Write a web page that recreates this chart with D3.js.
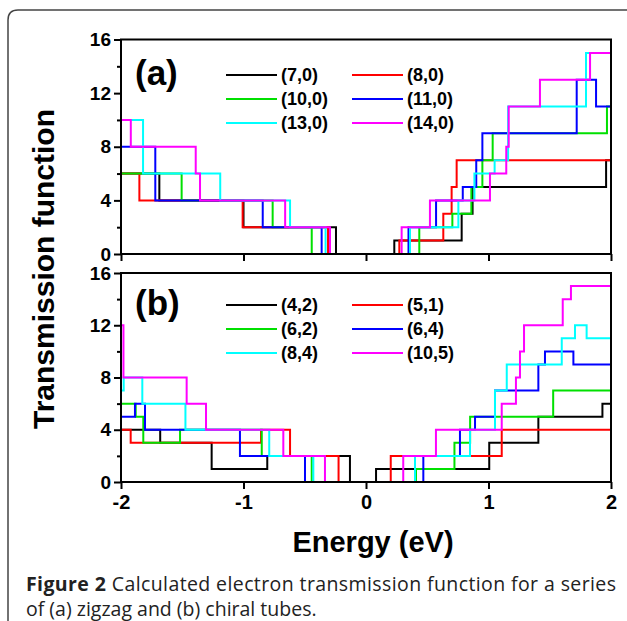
<!DOCTYPE html>
<html>
<head>
<meta charset="utf-8">
<script src="https://cdn.jsdelivr.net/npm/d3@7"></script>
<style>
  body { margin: 0; background: #fff; }
  svg text { font-family: "Liberation Sans", Arial, sans-serif; font-weight: bold; fill: #000; }
  .caption text { font-family: "Open Sans", "Noto Sans", sans-serif; }
</style>
</head>
<body>
<svg id="chart" width="627" height="621"></svg>
<script>
// axis ticks
var energyTicks = [-2, -1, 0, 1, 2];
var majorTicks = [0, 4, 8, 12, 16];
var minorTicks = [2, 6, 10, 14];
var colors = ["#000000", "#ff0000", "#00e000", "#0000ff", "#00ffff", "#ff00ff"];

// (a) zigzag tubes: [energy, transmission] step points
var zigzagLabels = ["(7,0)", "(8,0)", "(10,0)", "(11,0)", "(13,0)", "(14,0)"];
var t7_0 = [[-2, 6], [-1.687, 4], [-1.0, 2], [-0.245, 0], [0.231, 1], [0.781, 3], [0.87, 5], [1.96, 7], [2, 7]];
var t8_0 = [[-2, 6], [-1.85, 4], [-1.007, 2], [-0.31, 0], [0.272, 1], [0.631, 3], [0.699, 5], [0.74, 7], [2, 7]];
var t10_0 = [[-2, 6], [-1.505, 4], [-0.762, 2], [-0.443, 0], [0.435, 2], [0.705, 3], [0.86, 5], [0.95, 7], [1.034, 9], [1.967, 11], [2, 11]];
var t11_0 = [[-2, 8], [-1.72, 4], [-0.843, 2], [-0.362, 0], [0.347, 2], [0.572, 4], [0.79, 5], [0.9, 7], [0.95, 9], [1.72, 13], [1.878, 11], [2, 11]];
var t13_0 = [[-2, 10], [-1.82, 6], [-1.19, 4], [-0.62, 2], [-0.33, 0], [0.359, 2], [0.754, 4], [0.885, 6], [1.05, 7], [1.16, 11], [1.796, 15], [2, 15]];
var t14_0 = [[-2, 10], [-1.92, 8], [-1.39, 6], [-1.355, 4], [-0.66, 2], [-0.294, 0], [0.291, 2], [0.522, 4], [1.012, 6], [1.145, 8], [1.165, 11], [1.42, 13], [1.829, 15], [2, 15]];

// (b) chiral tubes
var chiralLabels = ["(4,2)", "(5,1)", "(6,2)", "(6,4)", "(8,4)", "(10,5)"];
var t4_2 = [[-2, 4], [-1.68, 3], [-1.26, 1], [-0.806, 2], [-0.131, 0], [0.082, 1], [1.006, 3], [1.407, 5], [1.93, 6], [2, 6]];
var t5_1 = [[-2, 4], [-1.921, 3], [-0.857, 4], [-0.62, 2], [-0.224, 0], [0.202, 2], [1.108, 4], [2, 4]];
var t6_2 = [[-2, 6], [-1.88, 5], [-1.818, 3], [-1.518, 4], [-0.851, 2], [-0.443, 0], [0.408, 1], [0.722, 3], [0.85, 5], [1.528, 7], [2, 7]];
var t6_4 = [[-2, 5], [-1.886, 6], [-1.804, 4], [-1.029, 2], [-0.498, 0], [0.468, 2], [0.767, 4], [0.89, 5], [1.053, 7], [1.407, 9], [1.461, 10], [1.693, 9], [2, 9]];
var t8_4 = [[-2, 7], [-1.978, 8], [-1.826, 6], [-1.474, 4], [-0.79, 2], [-0.43, 0], [0.4, 2], [0.849, 4], [1.053, 7], [1.149, 9], [1.598, 11], [1.706, 12], [1.801, 11], [2, 11]];
var t10_5 = [[-2, 12], [-1.98, 8], [-1.464, 6], [-1.306, 4], [-0.675, 2], [-0.335, 0], [0.304, 2], [0.571, 4], [1.108, 6], [1.224, 8], [1.257, 10], [1.29, 12], [1.606, 14], [1.673, 15], [2, 15]];

var svg = d3.select("#chart");

// outer figure box
svg.append("path")
    .attr("d", "M8,621 L8,20 Q8,10 18,10 L627,10")
    .attr("fill", "none")
    .attr("stroke", "#444")
    .attr("stroke-width", 1.5);

var x = d3.scaleLinear().domain([-2, 2]).range([121, 611]);

function drawPanel(top, bottom, series, labels, tag, legendTop, showXLabels) {
    var y = d3.scaleLinear().domain([0, 16]).range([bottom, top]);
    var g = svg.append("g");

    var line = d3.line()
        .x(function (d) { return x(d[0]); })
        .y(function (d) { return y(d[1]); })
        .curve(d3.curveStepAfter);

    g.selectAll("path.series")
        .data(series)
        .enter().append("path")
        .attr("class", "series")
        .attr("d", line)
        .attr("fill", "none")
        .attr("stroke", function (d, i) { return colors[i]; })
        .attr("stroke-width", 2);

    // frame
    g.append("rect")
        .attr("x", x(-2)).attr("y", top)
        .attr("width", x(2) - x(-2)).attr("height", bottom - top)
        .attr("fill", "none").attr("stroke", "#000").attr("stroke-width", 2);

    var yAxis = d3.axisLeft(y).tickValues(majorTicks).tickSize(7).tickPadding(3);
    var ya = g.append("g").attr("transform", "translate(" + x(-2) + ",0)").call(yAxis);
    ya.select(".domain").remove();
    ya.selectAll("line").attr("stroke-width", 2);
    ya.selectAll("text").style("font-size", "19px");

    var yMinor = d3.axisLeft(y).tickValues(minorTicks).tickSize(4).tickFormat("");
    var ym = g.append("g").attr("transform", "translate(" + x(-2) + ",0)").call(yMinor);
    ym.select(".domain").remove();
    ym.selectAll("line").attr("stroke-width", 2);

    var xAxis = d3.axisBottom(x).tickValues(energyTicks).tickSize(7).tickPadding(6)
        .tickFormat(function (d) { return showXLabels ? String(d) : ""; });
    var xa = g.append("g").attr("transform", "translate(0," + bottom + ")").call(xAxis);
    xa.select(".domain").remove();
    xa.selectAll("line").attr("stroke-width", 2);
    xa.selectAll("text").style("font-size", "20px");
    g.selectAll(".tick text").attr("font-family", null);

    // panel tag
    g.append("text")
        .attr("x", 135).attr("y", legendTop + 10)
        .style("font-size", "35px")
        .text(tag);

    // legend, two columns
    var leg = g.selectAll("g.leg")
        .data(labels)
        .enter().append("g")
        .attr("class", "leg")
        .attr("transform", function (d, i) {
            return "translate(" + (i % 2 === 0 ? 226 : 352) + "," + (legendTop + Math.floor(i / 2) * 24) + ")";
        });
    leg.append("line")
        .attr("x1", 0).attr("x2", 51)
        .attr("stroke", function (d, i) { return colors[i]; })
        .attr("stroke-width", 2);
    leg.append("text")
        .attr("x", 55).attr("dy", "0.36em")
        .style("font-size", "18px")
        .text(function (d) { return d; });
}

drawPanel(39.5, 254, [t7_0, t8_0, t10_0, t11_0, t13_0, t14_0], zigzagLabels, "(a)", 75, false);
drawPanel(273, 482, [t4_2, t5_1, t6_2, t6_4, t8_4, t10_5], chiralLabels, "(b)", 305, true);

// axis titles
svg.append("text")
    .attr("transform", "translate(54,269) rotate(-90)")
    .attr("text-anchor", "middle")
    .style("font-size", "30px")
    .text("Transmission function");

svg.append("text")
    .attr("x", 373).attr("y", 552)
    .attr("text-anchor", "middle")
    .style("font-size", "29px")
    .text("Energy (eV)");

// caption
var cap = svg.append("g").attr("class", "caption");
var line1 = cap.append("text")
    .attr("x", 26).attr("y", 591)
    .attr("textLength", 590)
    .attr("lengthAdjust", "spacing")
    .style("font-size", "19.5px")
    .style("fill", "#222");
line1.append("tspan").style("font-weight", "bold").text("Figure 2");
line1.append("tspan").style("font-weight", "normal").text(" Calculated electron transmission function for a series");
cap.append("text")
    .attr("x", 26).attr("y", 616)
    .style("font-size", "19.5px")
    .style("font-weight", "normal")
    .style("fill", "#222")
    .text("of (a) zigzag and (b) chiral tubes.");
</script>
</body>
</html>
